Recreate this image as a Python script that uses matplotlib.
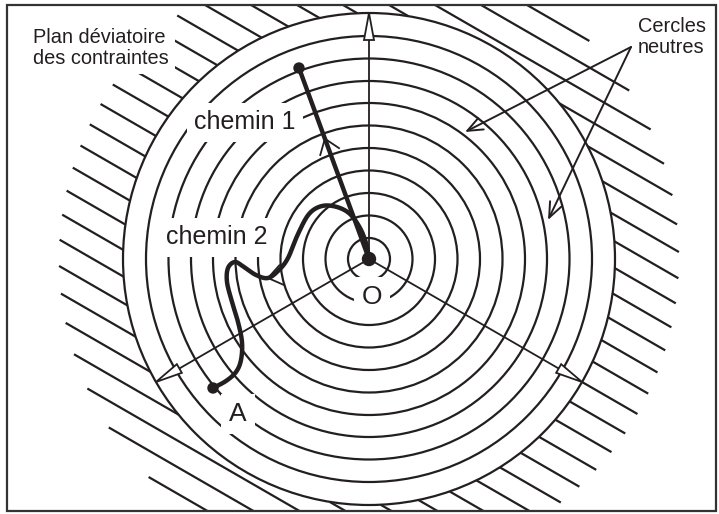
import numpy as np
import matplotlib
matplotlib.use('Agg')
import matplotlib.pyplot as plt
from matplotlib.patches import Circle, Rectangle, Polygon

plt.rcParams['font.family'] = ['Liberation Sans', 'DejaVu Sans']

# ---------------- data (pixel coordinates, y downward) ----------------
W, H = 719, 514
center = (369, 259)
circle_radii = [21, 43.5, 66, 88.5, 111, 133.5, 156, 178, 200.5, 223, 246]
hatch_outer_radius = 310
hatch_angle_deg = -30          # direction of hatch lines (math convention)
hatch_spacing = 23
axis_angles_deg = [90, 210, 330]
frame = (7, 5, 716, 511)

chemin1_x = [369, 299]
chemin1_y = [259, 68]
chemin1_chevron_frac = 0.63

chemin2_x = [369, 366, 360, 350, 337, 322, 309, 298, 288, 279, 268, 256, 244,
             235, 228, 227, 232, 238, 242, 241, 236, 226, 213]
chemin2_y = [259, 243, 228, 214, 207, 206, 214, 234, 258, 270, 278, 275, 267,
             262, 268, 282, 302, 322, 342, 360, 372, 381, 388]
chemin2_chevron_index = 10

neutral_src = (631, 47)
neutral_targets_x = [465, 548]
neutral_targets_y = [132, 220]

labels = [
    ("Plan déviatoire\ndes contraintes", 33, 28, 14.4, 'left', 'top'),
    ("Cercles\nneutres", 638, 17, 14.4, 'left', 'top'),
    ("chemin 1", 245, 122, 18, 'center', 'center'),
    ("chemin 2", 217, 237, 18, 'center', 'center'),
    ("O", 372, 297, 19, 'center', 'center'),
    ("A", 238, 414, 19, 'center', 'center'),
]

INK = '#231f20'

# ---------------- figure ----------------
fig = plt.figure(figsize=(W / 100, H / 100), dpi=100)
ax = fig.add_axes([0, 0, 1, 1])
ax.set_xlim(0, W)
ax.set_ylim(H, 0)
ax.axis('off')

x0, y0, x1, y1 = frame
clip_rect = Rectangle((x0, y0), x1 - x0, y1 - y0, transform=ax.transData,
                      facecolor='none', edgecolor='none')
ax.add_patch(clip_rect)

cx, cy = center
R = circle_radii[-1]

# hatching outside the outer circle
a = np.deg2rad(hatch_angle_deg)
u = np.array([np.cos(a), -np.sin(a)])
nvec = np.array([-u[1], u[0]])
kmax = int(hatch_outer_radius // hatch_spacing)
for k in range(-kmax, kmax + 1):
    s = k * hatch_spacing
    if abs(s) >= hatch_outer_radius:
        continue
    to = np.sqrt(hatch_outer_radius ** 2 - s ** 2)
    if abs(s) < R:
        ti = np.sqrt(R ** 2 - s ** 2)
        ranges = [(-to, -ti), (ti, to)]
    else:
        ranges = [(-to, to)]
    for ta, tb in ranges:
        pa = np.array(center) + s * nvec + ta * u
        pb = np.array(center) + s * nvec + tb * u
        ln, = ax.plot([pa[0], pb[0]], [pa[1], pb[1]], color=INK, lw=1.6,
                      solid_capstyle='butt', zorder=1)
        ln.set_clip_path(clip_rect)

# concentric neutral circles
for r in circle_radii:
    ax.add_patch(Circle(center, r, fill=False, edgecolor=INK, lw=1.6, zorder=1))

# labels with white background
for txt, x, y, fs, ha, va in labels:
    ax.text(x, y, txt, fontsize=fs, ha=ha, va=va, color=INK, zorder=2,
            linespacing=1.15,
            bbox=dict(boxstyle='square,pad=0.3', facecolor='white', edgecolor='none'))

# principal stress axes with open arrowheads
head_len, head_w = 27, 10
for ang in axis_angles_deg:
    t = np.deg2rad(ang)
    d = np.array([np.cos(t), -np.sin(t)])
    p = np.array([-d[1], d[0]])
    tip = np.array(center) + R * d
    base = np.array(center) + (R - head_len) * d
    ax.plot([cx, base[0]], [cy, base[1]], color=INK, lw=1.3, zorder=3)
    tri = np.array([tip, base + p * head_w / 2, base - p * head_w / 2])
    ax.add_patch(Polygon(tri, closed=True, facecolor='white', edgecolor=INK,
                         lw=1.3, zorder=3, joinstyle='miter'))


def catmull(xs, ys, n=24):
    pts = np.column_stack([xs, ys]).astype(float)
    P = np.vstack([pts[0], pts, pts[-1]])
    out = []
    for i in range(len(P) - 3):
        p0, p1, p2, p3 = P[i:i + 4]
        tt = np.linspace(0, 1, n, endpoint=False)[:, None]
        out.append(0.5 * ((2 * p1) + (-p0 + p2) * tt +
                          (2 * p0 - 5 * p1 + 4 * p2 - p3) * tt ** 2 +
                          (-p0 + 3 * p1 - 3 * p2 + p3) * tt ** 3))
    out.append(pts[-1:])
    return np.vstack(out)


def chevron(tip, direction, length=17, half=36):
    d = np.asarray(direction, float)
    d = d / np.linalg.norm(d)
    back = -d
    arms = []
    for sgn in (1, -1):
        h = np.deg2rad(sgn * half)
        rot = np.array([[np.cos(h), -np.sin(h)], [np.sin(h), np.cos(h)]])
        arms.append(tip + length * rot @ back)
    ax.plot([arms[0][0], tip[0], arms[1][0]], [arms[0][1], tip[1], arms[1][1]],
            color=INK, lw=1.3, zorder=4, solid_joinstyle='miter')


# chemin 1
ax.plot(chemin1_x, chemin1_y, color=INK, lw=3.2, zorder=4, solid_capstyle='round')
p0 = np.array([chemin1_x[0], chemin1_y[0]], float)
p1 = np.array([chemin1_x[1], chemin1_y[1]], float)
chevron(p0 + chemin1_chevron_frac * (p1 - p0), p1 - p0)
ax.add_patch(Circle((chemin1_x[1], chemin1_y[1]), 5, color=INK, zorder=5))

# chemin 2
c2 = catmull(chemin2_x, chemin2_y)
ax.plot(c2[:, 0], c2[:, 1], color=INK, lw=3.2, zorder=4, solid_capstyle='round')
i = chemin2_chevron_index
tip2 = np.array([chemin2_x[i], chemin2_y[i]], float)
dir2 = np.array([chemin2_x[i + 1] - chemin2_x[i - 1], chemin2_y[i + 1] - chemin2_y[i - 1]], float)
chevron(tip2, dir2)
ax.add_patch(Circle((chemin2_x[-1], chemin2_y[-1]), 5, color=INK, zorder=5))

# origin
ax.add_patch(Circle(center, 6.5, color=INK, zorder=5))

# "Cercles neutres" pointers
for tx, ty in zip(neutral_targets_x, neutral_targets_y):
    ax.annotate('', xy=(tx, ty), xytext=neutral_src,
                arrowprops=dict(arrowstyle='->,head_length=1.1,head_width=0.45',
                                color=INK, lw=1.4, shrinkA=0, shrinkB=0),
                zorder=3)

# frame
ax.add_patch(Rectangle((x0, y0), x1 - x0, y1 - y0, fill=False, edgecolor='#333333',
                       lw=1.6, zorder=6))

fig.savefig('out.png', dpi=100)
